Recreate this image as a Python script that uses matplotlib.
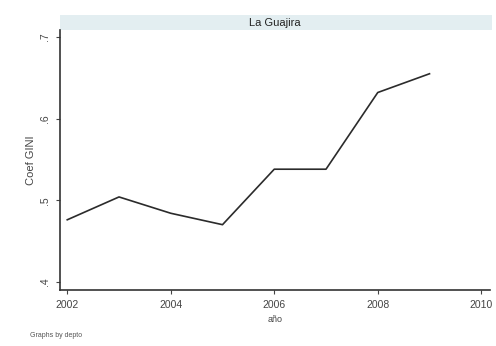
import matplotlib
matplotlib.use("Agg")
import matplotlib.pyplot as plt
from matplotlib.patches import Rectangle

plt.rcParams["font.family"] = ["Liberation Sans", "DejaVu Sans"]

years = [2002, 2003, 2004, 2005, 2006, 2007, 2008, 2009]
gini = [0.476, 0.504, 0.484, 0.470, 0.538, 0.538, 0.632, 0.655]
x_ticks = [2002, 2004, 2006, 2008, 2010]
y_ticks = [0.4, 0.5, 0.6, 0.7]
y_tick_labels = [".4", ".5", ".6", ".7"]

fig = plt.figure(figsize=(4.96, 3.46), dpi=100)
fig.patch.set_facecolor("white")
ax = fig.add_axes([0.121, 0.162, 0.867, 0.751])

ax.plot(years, gini, color="#2b2b2b", linewidth=1.2)

ax.set_xlim(2001.86, 2010.17)
ax.set_ylim(0.390, 0.7085)
ax.set_xticks(x_ticks)
ax.set_xticklabels([str(t) for t in x_ticks], fontsize=7.5, color="#444444")
ax.set_yticks(y_ticks)
ax.set_yticklabels(y_tick_labels, fontsize=7.5, color="#444444",
                   rotation=90, va="center")
ax.tick_params(length=3, width=0.8, colors="#444444", pad=4)
ax.set_ylabel("Coef GINI", fontsize=8, color="#444444", labelpad=3)
ax.set_xlabel("año", fontsize=6.5, color="#444444", labelpad=4)
for side in ("top", "right"):
    ax.spines[side].set_visible(False)
for side in ("left", "bottom"):
    ax.spines[side].set_color("#333333")
    ax.spines[side].set_linewidth(1.2)

# title strip above the plot region
band = Rectangle((0.0, 1.0), 1.005, 0.058, transform=ax.transAxes,
                 facecolor="#e3eef1", edgecolor="none", clip_on=False)
ax.add_patch(band)
ax.text(0.5, 1.029, "La Guajira", transform=ax.transAxes, ha="center",
        va="center", fontsize=8, color="#222222")

fig.text(0.06, 0.025, "Graphs by depto", fontsize=5, color="#555555")

fig.savefig("out.png", dpi=100)
